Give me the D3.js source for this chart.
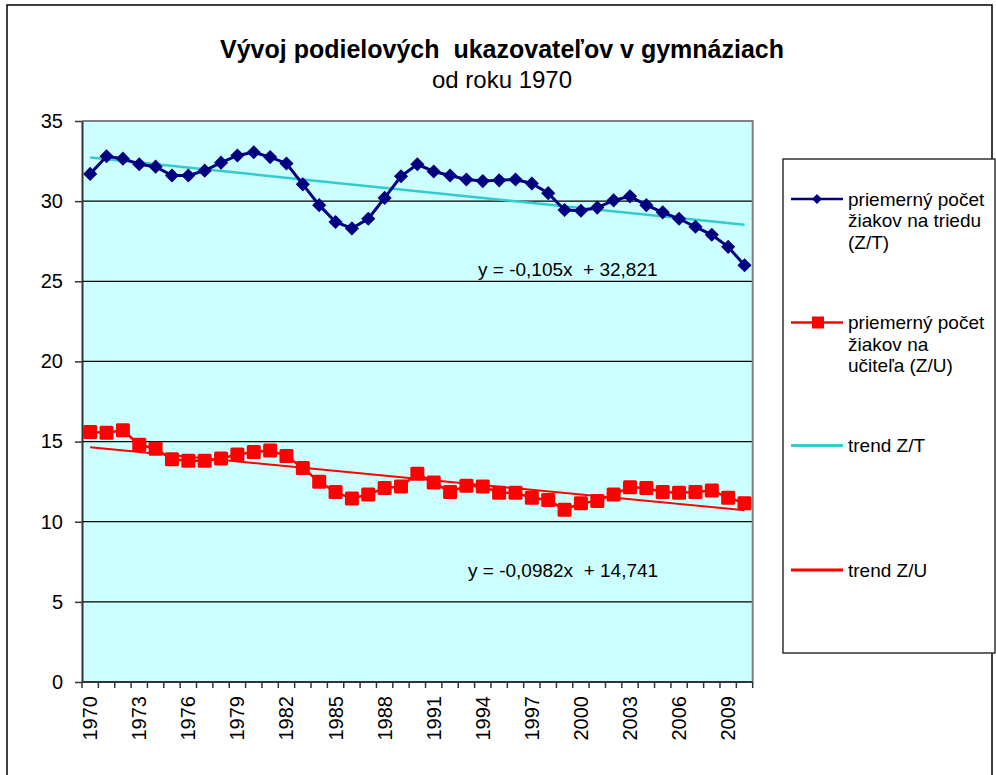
<!DOCTYPE html>
<html>
<head>
<meta charset="utf-8">
<script src="https://cdn.jsdelivr.net/npm/d3@7"></script>
<style>
  body { margin: 0; background: #fff; }
  text { font-family: "Liberation Sans", Arial, sans-serif; fill: #000; white-space: pre; }
</style>
</head>
<body>
<div id="chart"></div>
<script>
// roky 1970..2010
let years = d3.range(1970, 2011);

// priemerny pocet ziakov na triedu (Z/T)
let zt = [31.7, 32.8, 32.65, 32.3, 32.15, 31.6, 31.6, 31.9, 32.4, 32.85,
          33.05, 32.75, 32.35, 31.05, 29.75, 28.7, 28.3, 28.9, 30.2, 31.55,
          32.3, 31.85, 31.6, 31.35, 31.25, 31.3, 31.35, 31.1, 30.5, 29.45,
          29.4, 29.6, 30.05, 30.3, 29.75, 29.3, 28.9, 28.4, 27.9, 27.15, 26.0];

// priemerny pocet ziakov na ucitela (Z/U)
let zu = [15.6, 15.55, 15.7, 14.8, 14.55, 13.9, 13.8, 13.8, 13.95, 14.2,
          14.35, 14.45, 14.1, 13.35, 12.5, 11.85, 11.45, 11.7, 12.1, 12.2,
          13.0, 12.45, 11.85, 12.25, 12.2, 11.8, 11.8, 11.5, 11.35, 10.75,
          11.15, 11.3, 11.7, 12.15, 12.1, 11.85, 11.8, 11.85, 11.95, 11.5, 11.15];

// trendove ciary (konce)
let trendZT = [{year: 1970, v: 32.72}, {year: 2010, v: 28.52}];
let trendZU = [{year: 1970, v: 14.64}, {year: 2010, v: 10.72}];

let yTicks = [0, 5, 10, 15, 20, 25, 30, 35];
let xLabelYears = years.filter((d, i) => i % 3 == 0);

let eqZT = "y = -0,105x  + 32,821";
let eqZU = "y = -0,0982x  + 14,741";

let legendItems = [
  {lines: ["priemerný počet", "žiakov na triedu", "(Z/T)"], color: "#000080", marker: "diamond"},
  {lines: ["priemerný počet", "žiakov na", "učiteľa (Z/U)"], color: "#ff0000", marker: "square"},
  {lines: ["trend Z/T"], color: "#33cccc", marker: null},
  {lines: ["trend Z/U"], color: "#ff0000", marker: null}
];

let width = 996, height = 775;
let plot = {left: 82, right: 752.7, top: 121, bottom: 682};

let svg = d3.select("#chart").append("svg").attr("width", width).attr("height", height);

// ramcek grafu
svg.append("rect").attr("x", 7).attr("y", 5).attr("width", 985).attr("height", 800)
   .attr("fill", "#fff").attr("stroke", "#000").attr("stroke-width", 1.5);

// nadpis
svg.append("text").attr("x", 502).attr("y", 58).attr("text-anchor", "middle")
   .style("font-size", "25px").style("font-weight", "bold")
   .text("Vývoj podielových  ukazovateľov v gymnáziach");
svg.append("text").attr("x", 502).attr("y", 88).attr("text-anchor", "middle")
   .style("font-size", "24px").text("od roku 1970");

let xScale = d3.scaleBand().domain(years).range([plot.left, plot.right]).paddingInner(0).paddingOuter(0);
let yScale = d3.scaleLinear().domain([0, 35]).range([plot.bottom, plot.top]);
let cx = (yr) => xScale(yr) + xScale.bandwidth() / 2;

// pozadie
svg.append("rect").attr("x", plot.left).attr("y", plot.top)
   .attr("width", plot.right - plot.left).attr("height", plot.bottom - plot.top)
   .attr("fill", "#ccffff");

// mriezka
svg.append("g").selectAll("line").data(yTicks.filter(d => d > 0 && d < 35)).join("line")
   .attr("x1", plot.left).attr("x2", plot.right)
   .attr("y1", d => yScale(d)).attr("y2", d => yScale(d))
   .attr("stroke", "#000").attr("stroke-width", 1.3);

// horny a pravy okraj
svg.append("path")
   .attr("d", "M" + plot.left + "," + plot.top + "H" + plot.right + "V" + plot.bottom)
   .attr("fill", "none").attr("stroke", "#808080").attr("stroke-width", 2);

// os y
let yAxis = d3.axisLeft(yScale).tickValues(yTicks).tickSize(7).tickSizeOuter(0).tickPadding(12);
let gy = svg.append("g").attr("transform", "translate(" + plot.left + ",0)").call(yAxis);
gy.select(".domain").attr("stroke", "#333").attr("stroke-width", 2);
gy.selectAll(".tick line").attr("stroke", "#333").attr("stroke-width", 1.5);
gy.selectAll("text").style("font-size", "20px").attr("fill", "#000").attr("font-family", null);

// os x
let gx = svg.append("g").attr("transform", "translate(0," + plot.bottom + ")");
gx.append("line").attr("x1", plot.left).attr("x2", plot.right)
  .attr("stroke", "#333").attr("stroke-width", 2);
gx.selectAll(".xt").data(years.concat([2011])).join("line").attr("class", "xt")
  .attr("x1", d => d == 2011 ? plot.right : xScale(d))
  .attr("x2", d => d == 2011 ? plot.right : xScale(d))
  .attr("y1", 0).attr("y2", 6).attr("stroke", "#333").attr("stroke-width", 1.5);
let xAxis = d3.axisBottom(xScale).tickValues(xLabelYears).tickSize(0).tickPadding(0);
let gxl = svg.append("g").attr("transform", "translate(0," + plot.bottom + ")").call(xAxis);
gxl.select(".domain").remove();
gxl.selectAll("text").style("font-size", "20px").attr("fill", "#000").attr("font-family", null)
   .attr("text-anchor", "end").attr("dy", null).attr("y", 0)
   .attr("transform", "translate(7,14) rotate(-90)");

// trendy
let trendLine = d3.line().x(d => cx(d.year)).y(d => yScale(d.v));
svg.append("path").attr("d", trendLine(trendZT)).attr("fill", "none")
   .attr("stroke", "#33cccc").attr("stroke-width", 2.5);
svg.append("path").attr("d", trendLine(trendZU)).attr("fill", "none")
   .attr("stroke", "#ff0000").attr("stroke-width", 2);

// rady
let seriesLine = d3.line().x((d, i) => cx(years[i])).y(d => yScale(d));
svg.append("path").attr("d", seriesLine(zt)).attr("fill", "none")
   .attr("stroke", "#000080").attr("stroke-width", 3);
svg.append("path").attr("d", seriesLine(zu)).attr("fill", "none")
   .attr("stroke", "#ff0000").attr("stroke-width", 2.5);

let diamond = d3.symbol(d3.symbolSquare, 100);
svg.append("g").selectAll("path").data(zt).join("path")
   .attr("d", diamond)
   .attr("transform", (d, i) => "translate(" + cx(years[i]) + "," + yScale(d) + ") rotate(45)")
   .attr("fill", "#000080");

svg.append("g").selectAll("rect").data(zu).join("rect")
   .attr("x", (d, i) => cx(years[i]) - 7).attr("y", d => yScale(d) - 7)
   .attr("width", 14).attr("height", 14).attr("rx", 1.5)
   .attr("fill", "#ff0000");

// rovnice trendov
svg.append("text").attr("x", 478).attr("y", 276).style("font-size", "19px").text(eqZT);
svg.append("text").attr("x", 468).attr("y", 577).style("font-size", "19px").text(eqZU);

// legenda
let legend = svg.append("g");
legend.append("rect").attr("x", 783).attr("y", 159).attr("width", 212).attr("height", 494)
      .attr("fill", "#fff").attr("stroke", "#333").attr("stroke-width", 1.5);
let legendY = [199, 322.5, 445.5, 570];
legendItems.forEach((item, i) => {
  let g = legend.append("g").attr("transform", "translate(0," + legendY[i] + ")");
  g.append("line").attr("x1", 791).attr("x2", 843).attr("y1", 0).attr("y2", 0)
   .attr("stroke", item.color).attr("stroke-width", item.marker ? 2.5 : 3);
  if (item.marker == "diamond") {
    g.append("path").attr("d", d3.symbol(d3.symbolSquare, 50)).attr("fill", item.color)
     .attr("transform", "translate(817,0) rotate(45)");
  } else if (item.marker == "square") {
    g.append("rect").attr("x", 812).attr("y", -6).attr("width", 12).attr("height", 12)
     .attr("fill", item.color);
  }
  let t = g.append("text").attr("x", 848).attr("y", 6.5).style("font-size", "19px");
  item.lines.forEach((ln, j) => {
    t.append("tspan").attr("x", 848).attr("dy", j == 0 ? 0 : 21.7).text(ln);
  });
});
</script>
</body>
</html>
